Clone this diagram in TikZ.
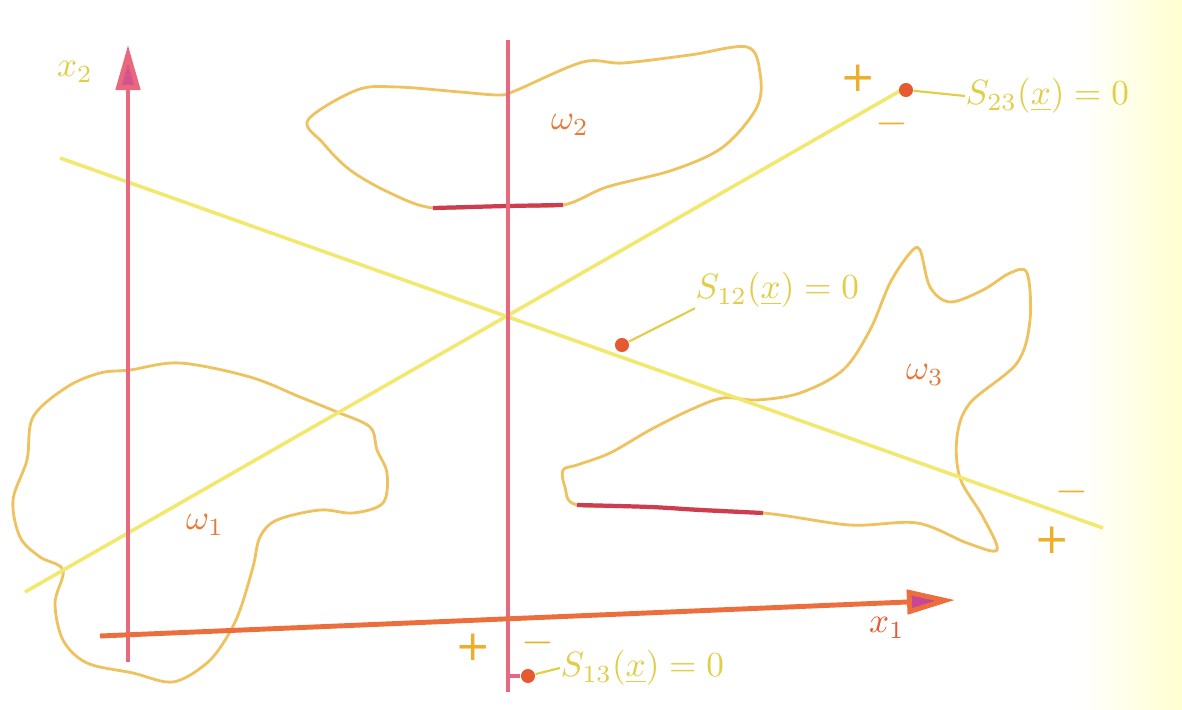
\documentclass[tikz,border=0pt]{standalone}
\usepackage{fontspec}
\setsansfont{DejaVu Sans}
\usetikzlibrary{arrows.meta}
\definecolor{axisred}{RGB}{232,105,125}
\definecolor{axisorange}{RGB}{235,110,60}
\definecolor{headmag}{RGB}{200,70,150}
\definecolor{lineyel}{RGB}{242,232,110}
\definecolor{blobcol}{RGB}{238,195,95}
\definecolor{blobdark}{RGB}{205,60,80}
\definecolor{txtyel}{RGB}{225,205,70}
\definecolor{dotcol}{RGB}{230,90,50}
\tikzset{
  axisline/.style={line width=1.4pt},
  sepline/.style={lineyel, line width=1pt},
  blob/.style={blobcol, line width=0.8pt},
  lbl/.style={txtyel, font=\sffamily\normalsize, inner sep=0pt},
  sign/.style={txtyel!60!orange, font=\sffamily\large, inner sep=0pt},
  ptr/.style={txtyel, line width=0.6pt},
  ptrdot/.style={fill=dotcol, circle, inner sep=0pt, minimum size=4pt}
}
\begin{document}
\begin{tikzpicture}[x=0.01cm,y=-0.01cm]
\useasboundingbox (0,0) rectangle (1182,710);
\fill[white] (0,0) rectangle (1182,710);
\shade[left color=white, right color=yellow!18] (1080,0) rectangle (1182,710);

% blob omega2
\draw[blob] plot[smooth cycle, tension=0.55] coordinates {
 (308,120) (357,90) (397,87) (460,92) (500,95) (517,90) (583,62) (623,63) (690,55) (747,47)
 (760,73) (757,107) (723,147) (673,170) (607,187) (563,205) (500,206) (433,208) (390,193)
 (350,170) (323,143)};
\draw[blobdark, line width=1.2pt] plot[smooth, tension=0.6] coordinates {(433,208) (470,207) (508,206) (563,205)};

% blob omega1
\draw[blob] plot[smooth cycle, tension=0.55] coordinates {
 (130,370) (180,363) (250,377) (300,397) (337,412) (370,427) (377,450) (387,473) (383,503)
 (353,513) (320,510) (277,520) (260,537) (253,567) (240,610) (227,637) (207,663) (173,682)
 (133,673) (87,663) (63,640) (55,603) (63,570) (40,557) (20,537) (13,500) (27,460) (33,417)
 (67,387) (100,373)};

% blob omega3
\draw[blob] plot[smooth cycle, tension=0.55] coordinates {
 (563,470) (565,487) (577,505) (650,507) (763,513) (850,525) (917,523) (967,543) (997,550)
 (983,517) (960,478) (957,437) (970,403) (1017,363) (1030,320) (1027,273) (1010,273)
 (983,290) (950,302) (930,287) (920,250) (910,253) (890,283) (870,330) (843,370) (800,393)
 (757,400) (723,398) (690,410) (650,430) (610,453) (577,465)};
\draw[blobdark, line width=1.2pt] plot[smooth, tension=0.6] coordinates {(577,505) (650,507) (700,510) (763,513)};

% separating lines
\coordinate (a23) at (25,592); \coordinate (b23) at (905,88);
\coordinate (a12) at (60,158); \coordinate (b12) at (1103,528);
\draw[sepline] (a23) -- (b23);
\draw[sepline] (a12) -- (b12);
\coordinate (a13) at (508,40); \coordinate (b13) at (508,692);
\draw[axisred, line width=1.1pt] (a13) -- (b13);

% axes
\coordinate (y0) at (128,662); \coordinate (y1) at (128,45);
\coordinate (x0) at (100,636); \coordinate (x1) at (955,600);
\draw[axisred, axisline, -{Triangle[length=0.45cm,width=0.24cm,fill=headmag!60!axisred]}] (y0) -- (y1);
\draw[axisorange, axisline, -{Triangle[length=0.48cm,width=0.24cm,fill=headmag]}] (x0) -- (x1);

% axis labels
\node[lbl, anchor=center] (lx2) at (75,72) {$x_{\scriptstyle 2}$};
\node[lbl, anchor=center, dotcol] (lx1) at (887,628) {$x_{\scriptstyle 1}$};

% region labels
\node[lbl, dotcol!70!txtyel] (w1) at (205,525) {$\omega_1$};
\node[lbl, dotcol!70!txtyel] (w2) at (570,125) {$\omega_2$};
\node[lbl, dotcol!70!txtyel] (w3) at (925,375) {$\omega_3$};

% S23 label
\node[lbl, anchor=west] (s23) at (965,96) {$S_{23}(\underline{x}) = 0$};
\node[ptrdot] (d23) at (906,90) {};
\draw[ptr] (d23) -- (s23.west);
\node[sign] (p23) at (858,78) {+};
\node[sign] (m23) at (892,124) {$-$};

% S12 label
\node[lbl, anchor=west] (s12) at (695,290) {$S_{12}(\underline{x}) = 0$};
\node[ptrdot] (d12) at (622,345) {};
\draw[ptr] (d12) -- (s12.south west);
\node[sign] (m12) at (1072,492) {$-$};
\node[sign] (p12) at (1052,540) {+};

% S13 label
\node[lbl, anchor=west] (s13) at (560,668) {$S_{13}(\underline{x}) = 0$};
\node[ptrdot] (d13) at (528,676) {};
\draw[ptr] (d13) -- (s13.west);
\draw[axisred, line width=1.1pt] (b13 |- d13) -- (d13);
\node[sign] (p13) at (473,647) {+};
\node[sign] (m13) at (538,643) {$-$};
\end{tikzpicture}
\end{document}
